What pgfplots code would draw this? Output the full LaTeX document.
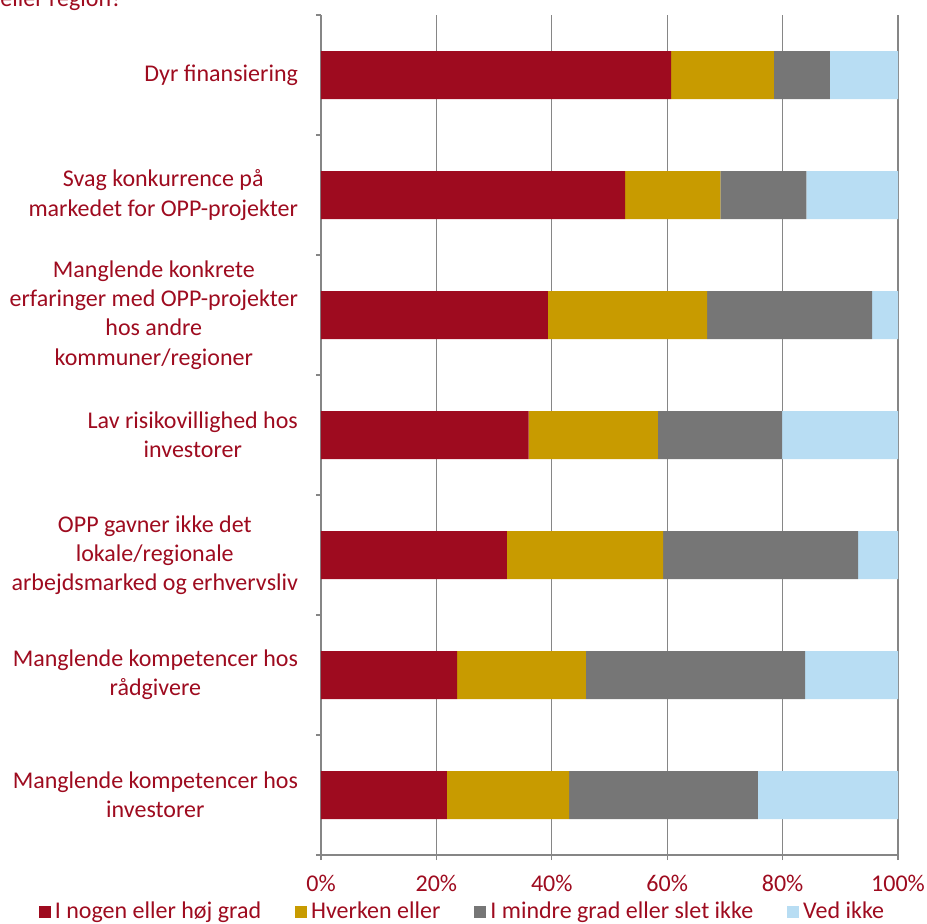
\documentclass[border=0pt]{standalone}
\usepackage{pgfplots}
\pgfplotsset{compat=1.18}
\usepackage{fontspec}
\setmainfont{Carlito}
\definecolor{cRed}{RGB}{158,11,31}
\definecolor{cGold}{RGB}{200,155,0}
\definecolor{cGray}{RGB}{118,118,118}
\definecolor{cBlue}{RGB}{184,221,243}
\definecolor{cAxis}{RGB}{134,134,134}
\begin{document}
\begin{tikzpicture}[x=1pt,y=1pt]
\useasboundingbox (0,0) rectangle (463.5,462);
\node[anchor=base west, text=cRed, font=\fontsize{12}{14.6}\selectfont, inner sep=0pt] at (0,458.5) {eller region?};
\begin{axis}[
  at={(160.5pt,34.5pt)}, anchor=south west,
  scale only axis, width=288.5pt, height=420pt,
  xbar stacked, bar width=24pt,
  xmin=0, xmax=100,
  ymin=-0.5, ymax=6.5, y dir=reverse,
  axis x line*=bottom, axis y line*=left,
  axis line style={cAxis, line width=0.65pt},
  xtick={0,20,40,60,80,100},
  xticklabels={0\%,20\%,40\%,60\%,80\%,100\%},
  xmajorgrids, major grid style={cAxis, line width=0.65pt},
  tick align=outside,
  major tick length=2.5pt, minor tick length=2.5pt,
  tick style={cAxis, line width=0.65pt},
  ytick={0,1,2,3,4,5,6},
  major y tick style={draw=none},
  minor ytick={-0.5,0.5,1.5,2.5,3.5,4.5,5.5,6.5},
  yticklabels={
    Dyr finansiering,
    {Svag konkurrence på\\markedet for OPP-projekter},
    {Manglende konkrete\\erfaringer med OPP-projekter\\hos andre\\kommuner/regioner},
    {Lav risikovillighed hos\\investorer},
    {OPP gavner ikke det\\lokale/regionale\\arbejdsmarked og erhvervsliv},
    {Manglende kompetencer hos\\rådgivere},
    {Manglende kompetencer hos\\investorer}},
  yticklabel style={align=center, text=cRed, font=\fontsize{12}{14.6}\selectfont, xshift=-5.5pt},
  xticklabel style={text=cRed, font=\fontsize{12}{14.6}\selectfont, yshift=-4pt},
  legend style={at={(axis description cs:0.247,-0.068)}, anchor=center,
    draw=none, fill=none, legend columns=-1,
    font=\fontsize{12}{14.6}\selectfont, text=cRed,
    /tikz/every even column/.append style={column sep=15pt}},
  legend image code/.code={\fill[#1] (0pt,-3pt) rectangle (6pt,3pt);},
]
\addplot[fill=cRed, draw=none] coordinates {(60.7,0) (52.7,1) (39.3,2) (36.0,3) (32.2,4) (23.6,5) (21.8,6)};
\addplot[fill=cGold, draw=none] coordinates {(17.8,0) (16.5,1) (27.6,2) (22.4,3) (27.1,4) (22.3,5) (21.2,6)};
\addplot[fill=cGray, draw=none] coordinates {(9.7,0) (14.9,1) (28.6,2) (21.5,3) (33.8,4) (38.0,5) (32.7,6)};
\addplot[fill=cBlue, draw=none] coordinates {(11.8,0) (15.9,1) (4.5,2) (20.1,3) (6.9,4) (16.1,5) (24.3,6)};
\legend{I nogen eller høj grad, Hverken eller, I mindre grad eller slet ikke, Ved ikke}
\end{axis}
\end{tikzpicture}
\end{document}
